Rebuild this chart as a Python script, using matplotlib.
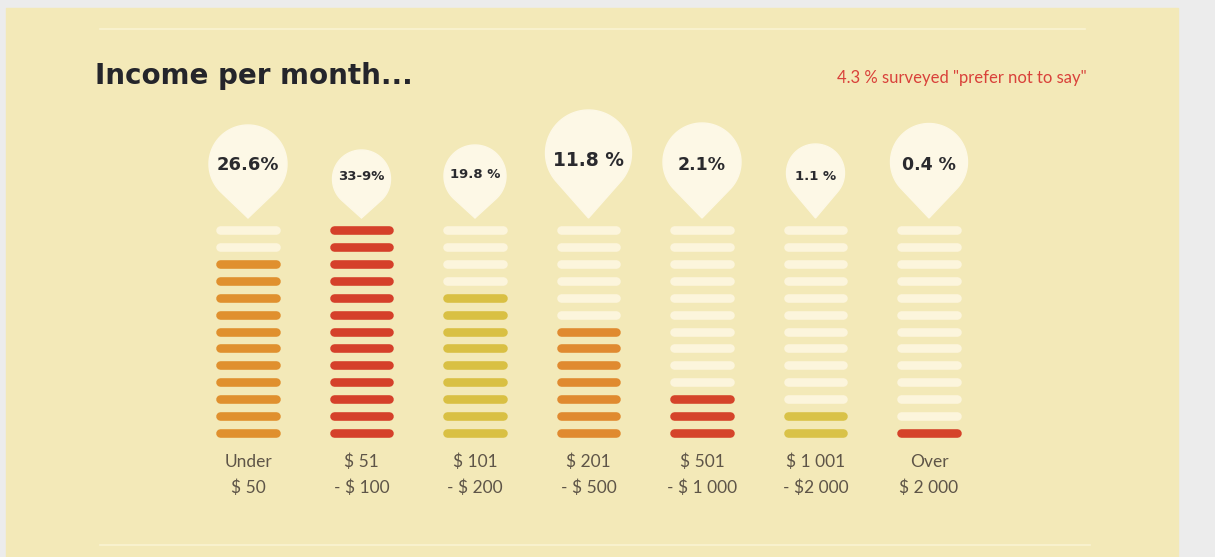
import numpy as np
import matplotlib
matplotlib.use("Agg")
import matplotlib.pyplot as plt
from matplotlib.patches import Rectangle, Polygon

# ---- data ----
categories_top = ["Under", "$ 51", "$ 101", "$ 201", "$ 501", "$ 1 001", "Over"]
categories_bottom = ["$ 50", "- $ 100", "- $ 200", "- $ 500", "- $ 1 000", "- $2 000", "$ 2 000"]
value_labels = ["26.6%", "33-9%", "19.8 %", "11.8 %", "2.1%", "1.1 %", "0.4 %"]
filled_segments = [11, 13, 9, 7, 3, 2, 1]
total_segments = 13
bar_colors = ["#e0902e", "#d5402a", "#d9c043", "#e08a30", "#d5442a", "#d9c248", "#d5432a"]
title = "Income per month..."
note = "4.3 % surveyed \"prefer not to say\""

# ---- styles ----
W, H = 1215, 557
BG_GRAY = "#ececec"
PAPER = "#f3e9b8"
CREAM = "#fcf5dc"
BUBBLE = "#fdf8e6"
bubble_radius = [39, 29, 31, 43, 39, 29, 38.5]
bubble_cy = [164, 179, 176, 153, 162, 173, 162]
label_fs = [13, 9.5, 9.5, 13.5, 12.5, 9.5, 12.5]
label_dy = [1, -2, -1, 7, 3, 4, 3]

fig = plt.figure(figsize=(W / 100, H / 100), dpi=100)
bgax = fig.add_axes([0, 0, 1, 1])
bgax.set_xlim(0, W)
bgax.set_ylim(H, 0)
bgax.axis("off")
bgax.add_patch(Rectangle((0, 0), W, H, color=BG_GRAY, zorder=0))
bgax.add_patch(Rectangle((6, 8), 1178 - 6, H - 8, color=PAPER, zorder=1))
bgax.plot([100, 1085], [29, 29], color="#faf3d2", lw=1.2, zorder=2)
bgax.plot([100, 1090], [545, 545], color="#faf3d2", lw=1.2, zorder=2)

# bar axes in pixel layout: category centers from 248 to 929
x0, dx = 248, 113.5
y_bot, y_top = 433, 230
dy = (y_bot - y_top) / (total_segments - 1)
left = (x0 - dx / 2) / W
right = (x0 + 6 * dx + dx / 2) / W
bottom = 1 - (y_bot + dy / 2) / H
top = 1 - (y_top - dy / 2) / H
ax = fig.add_axes([left, bottom, right - left, top - bottom])
ax.set_xlim(-0.5, len(categories_top) - 0.5)
ax.set_ylim(-0.5, total_segments - 0.5)
ax.axis("off")
ax.patch.set_alpha(0)

half_w = 0.245
seg_lw = 6.2
for i, (n, c) in enumerate(zip(filled_segments, bar_colors)):
    for k in range(total_segments):
        col = c if k < n else CREAM
        ax.plot([i - half_w, i + half_w], [k, k], color=col, lw=seg_lw,
                solid_capstyle="round", zorder=3)

# bubbles (pixel coordinates on background axes)
tip_y = 218
for i, lab in enumerate(value_labels):
    cx = x0 + i * dx
    r = bubble_radius[i]
    cy = bubble_cy[i]
    d = tip_y - cy
    th = np.arccos(min(r / d, 0.999))
    a0 = -np.pi / 2 + th
    a1 = -np.pi / 2 - th + 2 * np.pi
    angs = np.linspace(a0, a1, 120)
    pts = [(cx + r * np.cos(a), cy - r * np.sin(a)) for a in angs]
    pts.append((cx, tip_y))
    bgax.add_patch(Polygon(pts, closed=True, color=BUBBLE, zorder=4))
    bgax.text(cx, cy + label_dy[i], lab, ha="center", va="center",
              fontsize=label_fs[i], fontweight="heavy", family=["DejaVu Sans"],
              color="#2a2a2e", zorder=5)

# category labels
for i, (t1, t2) in enumerate(zip(categories_top, categories_bottom)):
    cx = x0 + i * dx
    bgax.text(cx, 462, t1, ha="center", va="center", fontsize=12.5,
              family=["Lato"], fontweight="normal", color="#5e5548", zorder=5)
    bgax.text(cx, 488, t2, ha="center", va="center", fontsize=12.5,
              family=["Lato"], fontweight="normal", color="#5e5548", zorder=5)

# title and note
bgax.text(95, 76, title, ha="left", va="center", fontsize=20,
          fontweight="heavy", family=["DejaVu Sans"], color="#24252b", zorder=5)
bgax.text(1087, 78, note, ha="right", va="center", fontsize=12,
          family=["Lato"], fontweight="normal", color="#d9413a", zorder=5)

fig.savefig("out.png", dpi=100)
